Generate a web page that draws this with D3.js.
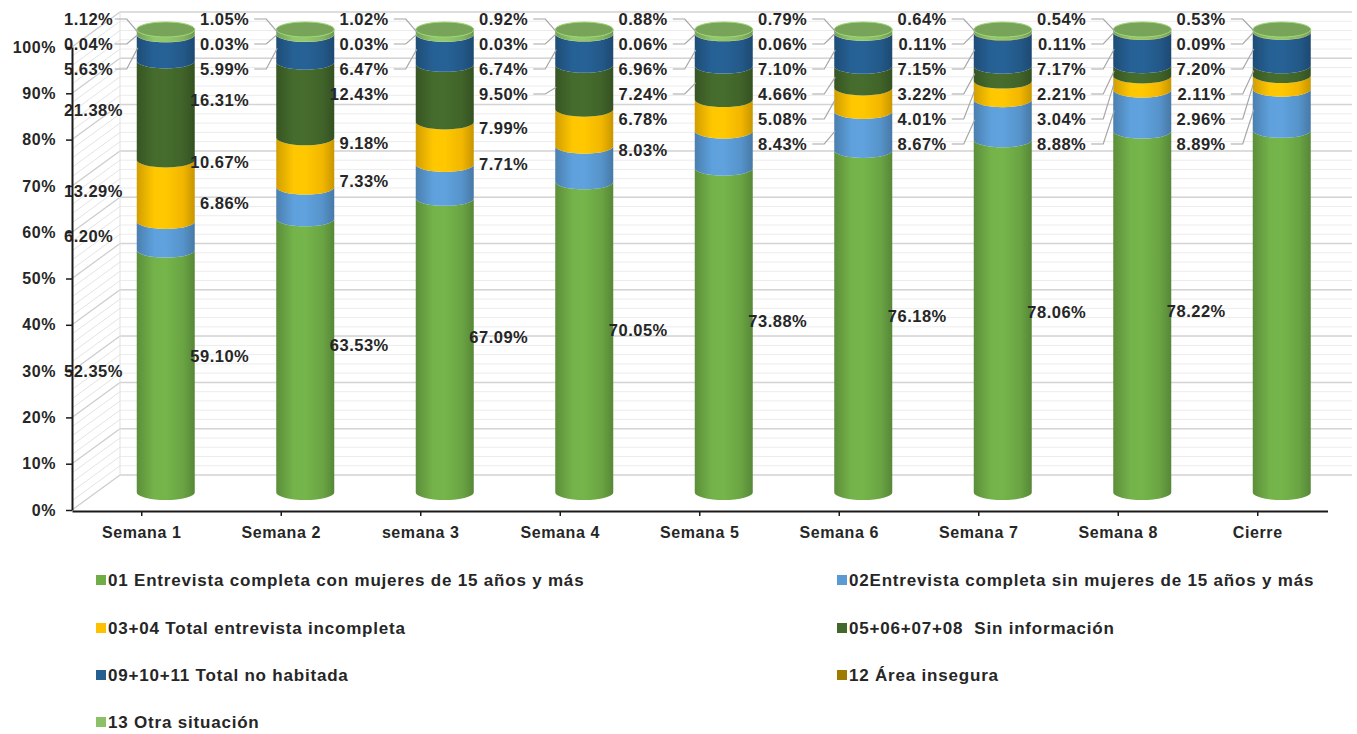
<!DOCTYPE html>
<html>
<head>
<meta charset="utf-8">
<script src="https://cdn.jsdelivr.net/npm/d3@7"></script>
<style>
  html, body { margin: 0; padding: 0; background: #fff; }
  svg { display: block; font-family: "Liberation Sans", Arial, sans-serif; }
</style>
</head>
<body>
<div class="js-chart"></div>
<script>
(function() {
  'use strict';

  /* ------------------------------------------------------------ *\
      Data
  \* ------------------------------------------------------------ */

  var categories = ['Semana 1', 'Semana 2', 'semana 3', 'Semana 4', 'Semana 5',
    'Semana 6', 'Semana 7', 'Semana 8', 'Cierre'];

  var seriesNames = [
    '01 Entrevista completa con mujeres de 15 años y más',
    '02Entrevista completa sin mujeres de 15 años y más',
    '03+04 Total entrevista incompleta',
    '05+06+07+08  Sin información',
    '09+10+11 Total no habitada',
    '12 Área insegura',
    '13 Otra situación'
  ];

  var seriesColours = ['#70AD47', '#5B9BD5', '#FFC000', '#43682B', '#255E91', '#9E7A00', '#8CC168'];

  var s01 = [52.35, 59.10, 63.53, 67.09, 70.05, 73.88, 76.18, 78.06, 78.22];
  var s02 = [6.20, 6.86, 7.33, 7.71, 8.03, 8.43, 8.67, 8.88, 8.89];
  var s03 = [13.29, 10.67, 9.18, 7.99, 6.78, 5.08, 4.01, 3.04, 2.96];
  var s05 = [21.38, 16.31, 12.43, 9.50, 7.24, 4.66, 3.22, 2.21, 2.11];
  var s09 = [5.63, 5.99, 6.47, 6.74, 6.96, 7.10, 7.15, 7.17, 7.20];
  var s12 = [0.04, 0.03, 0.03, 0.03, 0.06, 0.06, 0.11, 0.11, 0.09];
  var s13 = [1.12, 1.05, 1.02, 0.92, 0.88, 0.79, 0.64, 0.54, 0.53];

  var yTicks = [0, 10, 20, 30, 40, 50, 60, 70, 80, 90, 100];

  var series = [s01, s02, s03, s05, s09, s12, s13];

  /* ------------------------------------------------------------ *\
      Layout
  \* ------------------------------------------------------------ */

  var width = 1357;
  var height = 734;
  var plotLeft = 72;
  var plotRight = 1327.5;
  var plotBottom = 510;
  var plotTop = 47;
  var depthX = 48;
  var depthY = -35;
  var cylRadius = 29;
  var cylRy = 7.5;
  var labelGap = 25;
  var labelTop = 19;
  var labelMinX = 64;

  var x = d3.scaleBand().domain(categories).range([plotLeft, plotRight]).padding(0);
  var y = d3.scaleLinear().domain([0, 100]).range([plotBottom, plotTop]);

  function midY(v) { return y(v) + depthY / 2; }
  function cylX(cat) { return x(cat) + x.bandwidth() / 2 + depthX / 2; }

  var svg = d3.select('.js-chart')
    .append('svg')
    .attr('width', width)
    .attr('height', height);

  var defs = svg.append('defs');

  seriesColours.forEach(function(c, j) {
    var base = d3.color(c);
    var g = defs.append('linearGradient')
      .attr('id', 'grad' + j)
      .attr('x1', '0%').attr('x2', '100%').attr('y1', '0%').attr('y2', '0%');
    g.append('stop').attr('offset', '0%').attr('stop-color', base.darker(0.55));
    g.append('stop').attr('offset', '30%').attr('stop-color', base.brighter(0.1));
    g.append('stop').attr('offset', '50%').attr('stop-color', base.brighter(0.12));
    g.append('stop').attr('offset', '80%').attr('stop-color', base.darker(0.15));
    g.append('stop').attr('offset', '100%').attr('stop-color', base.darker(0.7));
  });

  /* ------------------------------------------------------------ *\
      Walls and gridlines
  \* ------------------------------------------------------------ */

  var minorTicks = d3.range(0, 100.01, 2);
  var walls = svg.append('g');

  walls.selectAll('.minor')
    .data(minorTicks)
    .enter().append('line')
    .attr('x1', plotLeft + depthX).attr('x2', 1352)
    .attr('y1', function(d) { return y(d) + depthY; })
    .attr('y2', function(d) { return y(d) + depthY; })
    .attr('stroke', '#ececec').attr('stroke-width', 1);

  walls.selectAll('.minorSide')
    .data(minorTicks)
    .enter().append('line')
    .attr('x1', plotLeft).attr('x2', plotLeft + depthX)
    .attr('y1', function(d) { return y(d); })
    .attr('y2', function(d) { return y(d) + depthY; })
    .attr('stroke', '#e4e4e4').attr('stroke-width', 1);

  walls.selectAll('.major')
    .data(yTicks)
    .enter().append('line')
    .attr('x1', plotLeft + depthX).attr('x2', 1352)
    .attr('y1', function(d) { return y(d) + depthY; })
    .attr('y2', function(d) { return y(d) + depthY; })
    .attr('stroke', '#d4d4d4').attr('stroke-width', 1.5);

  walls.selectAll('.majorSide')
    .data(yTicks)
    .enter().append('line')
    .attr('x1', plotLeft).attr('x2', plotLeft + depthX)
    .attr('y1', function(d) { return y(d); })
    .attr('y2', function(d) { return y(d) + depthY; })
    .attr('stroke', '#cfcfcf').attr('stroke-width', 1.2);

  walls.append('line')
    .attr('x1', plotLeft + depthX).attr('x2', plotLeft + depthX)
    .attr('y1', y(0) + depthY).attr('y2', y(100) + depthY)
    .attr('stroke', '#e0e0e0');

  /* ------------------------------------------------------------ *\
      Cylinders
  \* ------------------------------------------------------------ */

  var bars = svg.append('g');
  var labelData = [];

  categories.forEach(function(cat, i) {
    var cx = cylX(cat);
    var cum = 0;
    var cylLabels = [];
    series.forEach(function(s, j) {
      var v = s[i];
      var y0 = midY(cum);
      var y1 = midY(cum + v);
      var d = 'M' + (cx - cylRadius) + ',' + y1 +
        'L' + (cx - cylRadius) + ',' + y0 +
        'A' + cylRadius + ',' + cylRy + ' 0 0 0 ' + (cx + cylRadius) + ',' + y0 +
        'L' + (cx + cylRadius) + ',' + y1 +
        'A' + cylRadius + ',' + cylRy + ' 0 0 1 ' + (cx - cylRadius) + ',' + y1 + 'Z';
      bars.append('path')
        .attr('d', d)
        .attr('fill', 'url(#grad' + j + ')');
      cylLabels.push({ value: v, want: (y0 + y1) / 2, cx: cx });
      cum += v;
    });

    bars.append('ellipse')
      .attr('cx', cx)
      .attr('cy', midY(cum))
      .attr('rx', cylRadius)
      .attr('ry', cylRy)
      .attr('fill', d3.color(seriesColours[6]).darker(0.45))
      .attr('stroke', d3.color(seriesColours[6]).brighter(0.3))
      .attr('stroke-width', 1);

    /* spread labels so they do not overlap */
    var ordered = cylLabels.slice().sort(function(a, b) { return a.want - b.want; });
    ordered.forEach(function(l) { l.y = l.want; });
    for (var it = 0; it < 300; it++) {
      for (var k = 1; k < ordered.length; k++) {
        var diff = ordered[k].y - ordered[k - 1].y;
        if (diff < labelGap) {
          var shift = (labelGap - diff) / 2;
          ordered[k - 1].y -= shift;
          ordered[k].y += shift;
        }
      }
      if (ordered[0].y < labelTop) ordered[0].y = labelTop;
    }
    for (var m = 1; m < ordered.length; m++) {
      if (ordered[m].y < ordered[m - 1].y + labelGap) ordered[m].y = ordered[m - 1].y + labelGap;
    }
    labelData = labelData.concat(ordered);
  });

  /* ------------------------------------------------------------ *\
      Data labels with leader lines
  \* ------------------------------------------------------------ */

  var lines = svg.append('g');
  var labels = svg.append('g');

  labelData.forEach(function(l) {
    var left = l.cx - cylRadius;
    var t = labels.append('text')
      .attr('x', left - 27)
      .attr('y', l.y)
      .attr('dy', '0.36em')
      .attr('text-anchor', 'end')
      .attr('font-size', 16.5)
      .attr('font-weight', 'bold')
      .attr('letter-spacing', 0.5)
      .attr('fill', '#262626')
      .text(l.value.toFixed(2) + '%');
    var w = t.node().getComputedTextLength();
    var tx = left - 27;
    if (tx - w < labelMinX) {
      tx = labelMinX + w;
      t.attr('x', tx);
    }
    if (Math.abs(l.y - l.want) > 5) {
      var x0 = Math.min(left - 22, tx + 5);
      var xb = Math.max(x0, left - 10);
      lines.append('path')
        .attr('d', 'M' + x0 + ',' + l.y + 'L' + xb + ',' + l.y +
          'L' + (left + 1) + ',' + l.want)
        .attr('fill', 'none')
        .attr('stroke', '#a6a6a6')
        .attr('stroke-width', 1.2);
    }
  });

  /* ------------------------------------------------------------ *\
      Axes
  \* ------------------------------------------------------------ */

  var yAxis = svg.append('g')
    .attr('transform', 'translate(' + plotLeft + ',0)')
    .call(d3.axisLeft(y).tickValues(yTicks).tickSize(6).tickSizeOuter(0).tickPadding(10)
      .tickFormat(function(d) { return d + '%'; }));

  var xAxis = svg.append('g')
    .attr('transform', 'translate(0,' + (plotBottom + 1) + ')')
    .call(d3.axisBottom(x).tickSize(5).tickSizeOuter(0).tickPadding(11));

  [yAxis, xAxis].forEach(function(a) {
    a.select('.domain').attr('stroke', '#1a1a1a').attr('stroke-width', 2);
    a.selectAll('.tick line').attr('stroke', '#1a1a1a').attr('stroke-width', 1.5);
    a.selectAll('.tick text')
      .attr('font-family', '"Liberation Sans", Arial, sans-serif')
      .attr('font-size', 16)
      .attr('font-weight', 'bold')
      .attr('letter-spacing', 0.6)
      .attr('fill', '#262626');
  });

  /* ------------------------------------------------------------ *\
      Legend
  \* ------------------------------------------------------------ */

  var legend = svg.append('g');
  var legendCols = [96, 837];
  var legendRows = [580, 628, 675, 722];

  seriesNames.forEach(function(name, j) {
    var lx = legendCols[j % 2];
    var ly = legendRows[Math.floor(j / 2)];
    legend.append('rect')
      .attr('x', lx).attr('y', ly - 5)
      .attr('width', 10).attr('height', 10)
      .attr('fill', seriesColours[j]);
    legend.append('text')
      .attr('x', lx + 12)
      .attr('y', ly)
      .attr('dy', '0.36em')
      .attr('font-size', 17)
      .attr('font-weight', 'bold')
      .attr('letter-spacing', 0.8)
      .attr('fill', '#262626')
      .style('white-space', 'pre')
      .text(name);
  });
})();
</script>
</body>
</html>
